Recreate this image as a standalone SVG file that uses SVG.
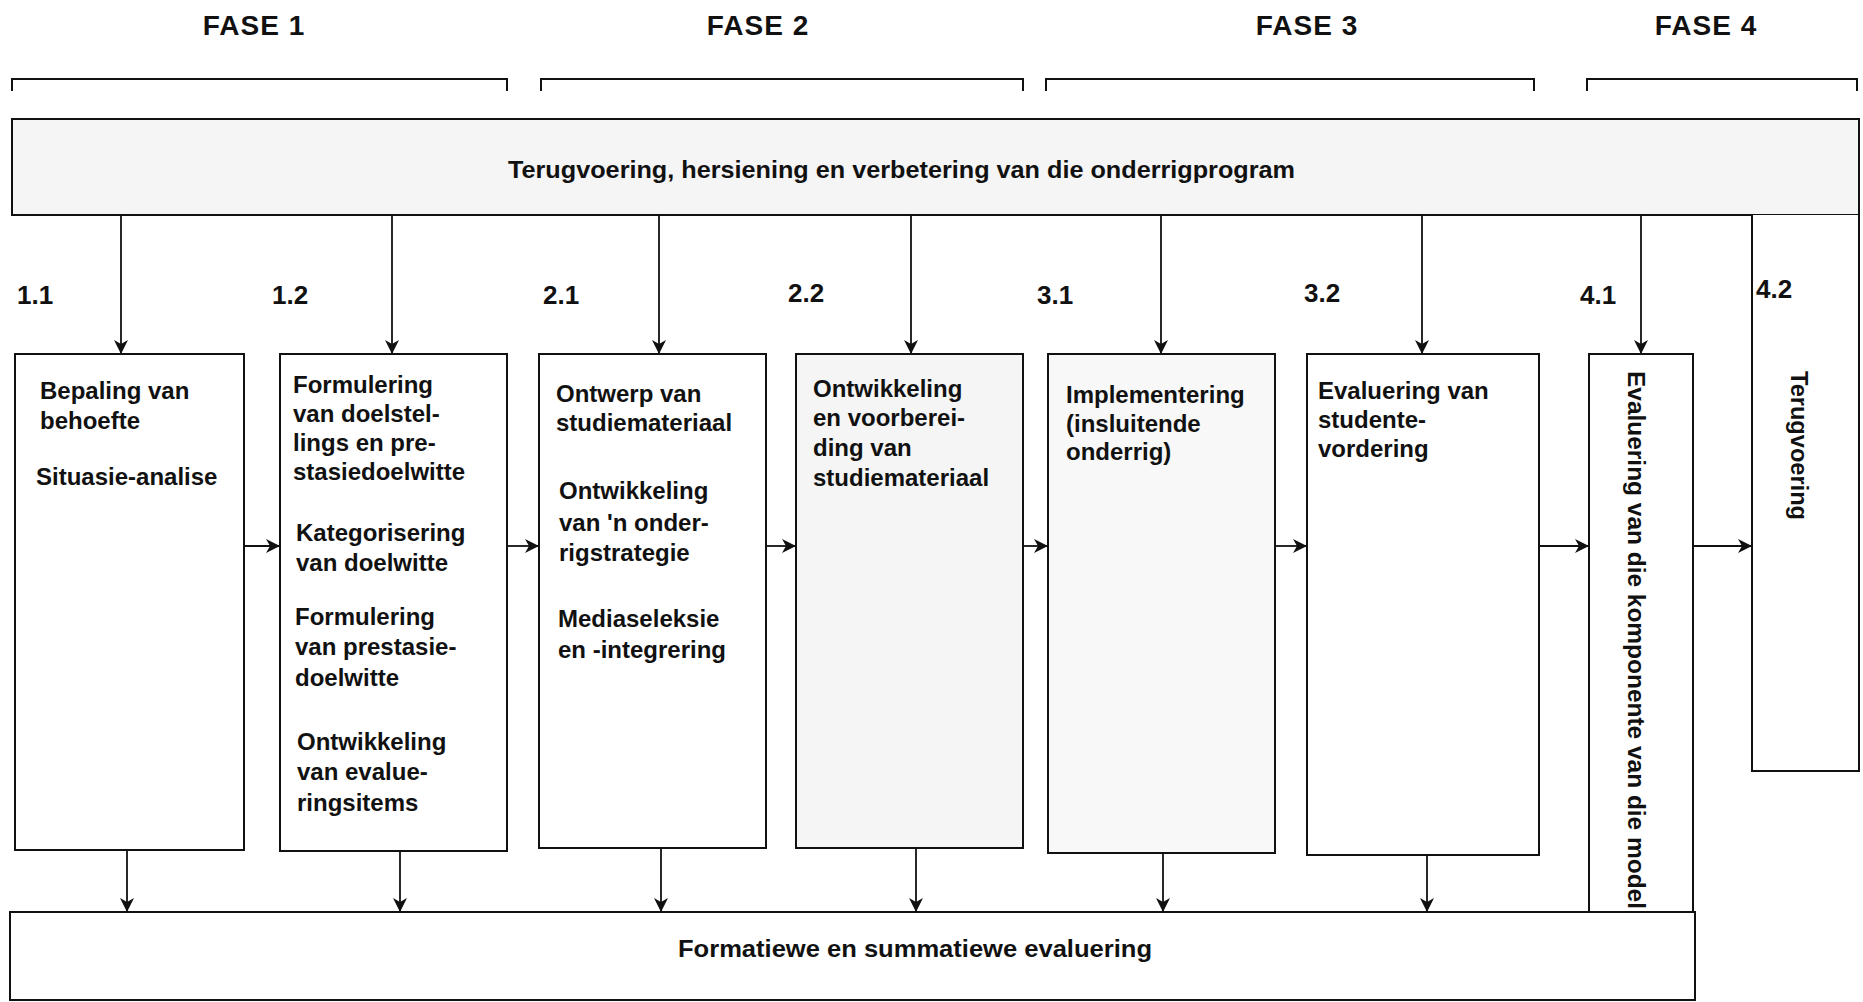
<svg xmlns="http://www.w3.org/2000/svg" width="1863" height="1002" viewBox="0 0 1863 1002">
  <style>
    text { font-family: "Liberation Sans", Arial, sans-serif; font-weight: bold; fill: #111; }
    .phase { font-size: 28px; letter-spacing: 1px; }
    .num { font-size: 26px; }
    .body { font-size: 24px; }
    .box { fill: #fff; stroke: #111; stroke-width: 2; }
    .shade { fill: #f5f5f5; }
    .bracket { fill: none; stroke: #111; stroke-width: 2; }
    .conn line { stroke: #111; stroke-width: 1.8; marker-end: url(#arrow); }
  </style>
  <defs>
    <marker id="arrow" markerUnits="userSpaceOnUse" viewBox="0 0 14 14" refX="14" refY="7" markerWidth="14" markerHeight="14" orient="auto">
      <path d="M0,0 L14,7 L0,14 L4,7 z" fill="#111"/>
    </marker>
  </defs>

  <rect width="1863" height="1002" fill="#fff"/>

  <!-- phase headings and brackets -->
  <g id="phases">
    <text class="phase" x="254" y="35" text-anchor="middle">FASE 1</text>
    <text class="phase" x="758" y="35" text-anchor="middle">FASE 2</text>
    <text class="phase" x="1307" y="35" text-anchor="middle">FASE 3</text>
    <text class="phase" x="1706" y="35" text-anchor="middle">FASE 4</text>
    <path class="bracket" d="M12,91 V79 H507 V91"/>
    <path class="bracket" d="M541,91 V79 H1023 V91"/>
    <path class="bracket" d="M1046,91 V79 H1534 V91"/>
    <path class="bracket" d="M1587,91 V79 H1857 V91"/>
  </g>

  <!-- feedback bar across the top -->
  <g id="feedback-bar">
    <rect class="box shade" x="12" y="119" width="1847" height="96"/>
    <text class="body" x="508" y="178" textLength="787" lengthAdjust="spacingAndGlyphs">Terugvoering, hersiening en verbetering van die onderrigprogram</text>
  </g>

  <g id="step-1-1">
    <rect class="box" x="15" y="354" width="229" height="496"/>
    <text class="body" x="40" y="399">Bepaling van</text>
    <text class="body" x="40" y="429">behoefte</text>
    <text class="body" x="36" y="485">Situasie-analise</text>
  </g>

  <g id="step-1-2">
    <rect class="box" x="280" y="354" width="227" height="497"/>
    <text class="body" x="293" y="393">Formulering</text>
    <text class="body" x="293" y="422">van doelstel-</text>
    <text class="body" x="293" y="451">lings en pre-</text>
    <text class="body" x="293" y="480">stasiedoelwitte</text>
    <text class="body" x="296" y="541">Kategorisering</text>
    <text class="body" x="296" y="571">van doelwitte</text>
    <text class="body" x="295" y="625">Formulering</text>
    <text class="body" x="295" y="655">van prestasie-</text>
    <text class="body" x="295" y="686">doelwitte</text>
    <text class="body" x="297" y="750">Ontwikkeling</text>
    <text class="body" x="297" y="780">van evalue-</text>
    <text class="body" x="297" y="811">ringsitems</text>
  </g>

  <g id="step-2-1">
    <rect class="box" x="539" y="354" width="227" height="494"/>
    <text class="body" x="556" y="402">Ontwerp van</text>
    <text class="body" x="556" y="431">studiemateriaal</text>
    <text class="body" x="559" y="499">Ontwikkeling</text>
    <text class="body" x="559" y="531">van 'n onder-</text>
    <text class="body" x="559" y="561">rigstrategie</text>
    <text class="body" x="558" y="627">Mediaseleksie</text>
    <text class="body" x="558" y="658">en -integrering</text>
  </g>

  <g id="step-2-2">
    <rect class="box shade" x="796" y="354" width="227" height="494"/>
    <text class="body" x="813" y="397">Ontwikkeling</text>
    <text class="body" x="813" y="426">en voorberei-</text>
    <text class="body" x="813" y="456">ding van</text>
    <text class="body" x="813" y="486">studiemateriaal</text>
  </g>

  <g id="step-3-1">
    <rect class="box" style="fill:#f8f8f8" x="1048" y="354" width="227" height="499"/>
    <text class="body" x="1066" y="403">Implementering</text>
    <text class="body" x="1066" y="432">(insluitende</text>
    <text class="body" x="1066" y="460">onderrig)</text>
  </g>

  <g id="step-3-2">
    <rect class="box" x="1307" y="354" width="232" height="501"/>
    <text class="body" x="1318" y="399">Evaluering van</text>
    <text class="body" x="1318" y="428">studente-</text>
    <text class="body" x="1318" y="457">vordering</text>
  </g>

  <g id="step-4-1">
    <rect class="box" x="1589" y="354" width="104" height="558"/>
    <text class="body" transform="translate(1628,371) rotate(90)" textLength="538" lengthAdjust="spacingAndGlyphs">Evaluering van die komponente van die model</text>
  </g>

  <g id="step-4-2">
    <path class="box" d="M1752,215 V771 H1859 V215"/>
    <text class="body" transform="translate(1791,371) rotate(90)" textLength="149" lengthAdjust="spacingAndGlyphs">Terugvoering</text>
  </g>

  <!-- step numbers -->
  <g id="step-numbers">
    <text class="num" x="17" y="304">1.1</text>
    <text class="num" x="272" y="304">1.2</text>
    <text class="num" x="543" y="304">2.1</text>
    <text class="num" x="788" y="302">2.2</text>
    <text class="num" x="1037" y="304">3.1</text>
    <text class="num" x="1304" y="302">3.2</text>
    <text class="num" x="1580" y="304">4.1</text>
    <text class="num" x="1756" y="298">4.2</text>
  </g>

  <!-- evaluation bar across the bottom -->
  <g id="evaluation-bar">
    <rect class="box" x="10" y="912" width="1685" height="88"/>
    <text class="body" x="678" y="957" textLength="474" lengthAdjust="spacingAndGlyphs">Formatiewe en summatiewe evaluering</text>
  </g>

  <g id="connectors" class="conn">
    <!-- from feedback bar down to each step -->
    <line x1="121" y1="215" x2="121" y2="354"/>
    <line x1="392" y1="215" x2="392" y2="354"/>
    <line x1="659" y1="215" x2="659" y2="354"/>
    <line x1="911" y1="215" x2="911" y2="354"/>
    <line x1="1161" y1="215" x2="1161" y2="354"/>
    <line x1="1422" y1="215" x2="1422" y2="354"/>
    <line x1="1641" y1="215" x2="1641" y2="354"/>
    <!-- step to step -->
    <line x1="244" y1="546" x2="280" y2="546"/>
    <line x1="507" y1="546" x2="539" y2="546"/>
    <line x1="766" y1="546" x2="796" y2="546"/>
    <line x1="1023" y1="546" x2="1048" y2="546"/>
    <line x1="1275" y1="546" x2="1307" y2="546"/>
    <line x1="1539" y1="546" x2="1589" y2="546"/>
    <line x1="1693" y1="546" x2="1752" y2="546"/>
    <!-- steps down to evaluation bar -->
    <line x1="127" y1="850" x2="127" y2="912"/>
    <line x1="400" y1="851" x2="400" y2="912"/>
    <line x1="661" y1="848" x2="661" y2="912"/>
    <line x1="916" y1="848" x2="916" y2="912"/>
    <line x1="1163" y1="853" x2="1163" y2="912"/>
    <line x1="1427" y1="855" x2="1427" y2="912"/>
  </g>
</svg>
